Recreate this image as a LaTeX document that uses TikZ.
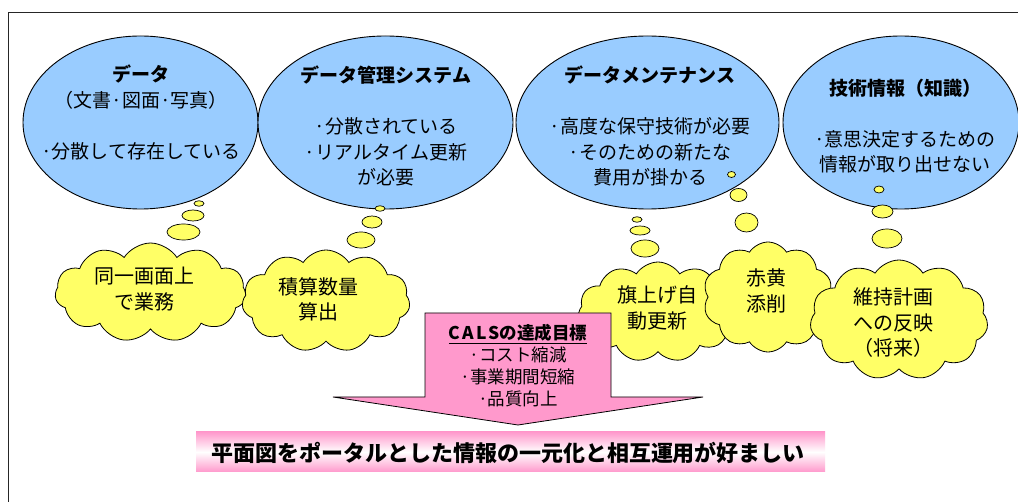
\documentclass[tikz,border=0pt]{standalone}
\usepackage{fontspec}
\newfontfamily\jp{Noto Sans CJK JP}
\usetikzlibrary{shapes.geometric,shapes.symbols}
\definecolor{eblue}{RGB}{153,204,255}
\definecolor{cyell}{RGB}{255,255,102}
\definecolor{apink}{RGB}{255,153,204}
\begin{document}
\begin{tikzpicture}[x=1pt,y=-1pt,
  bigell/.style={ellipse, draw=black, line width=0.9pt, fill=eblue, inner sep=0pt},
  bub/.style={ellipse, draw=black, line width=0.7pt, fill=cyell, inner sep=0pt},
  cld/.style={cloud, cloud puffs=11, cloud puff arc=115, cloud ignores aspect, draw=black, line width=0.8pt, fill=cyell, inner sep=0pt},
  etext/.style={align=center, font=\jp\fontsize{19}{25.5}\selectfont, inner sep=0pt},
  ctext/.style={align=center, font=\jp\fontsize{20}{25.5}\selectfont, inner sep=0pt},
  atext/.style={align=center, font=\jp\fontsize{17.5}{22}\selectfont, inner sep=0pt},
  frameline/.style={draw=black!85, line width=0.9pt}
]
\useasboundingbox (0,0) rectangle (1018,502);
\fill[white] (0,0) rectangle (1018,502);
\coordinate (fbl) at (8,502);
\coordinate (ftl) at (8,12);
\coordinate (ftr) at (1018,12);
\draw[frameline] (fbl) -- (ftl) -- (ftr);

% big ellipses
\node[bigell, minimum width=235, minimum height=173] (e1) at (140.5,122.5) {};
\node[bigell, minimum width=255, minimum height=173] (e2) at (385.5,122.5) {};
\node[bigell, minimum width=263, minimum height=173] (e3) at (647.5,122.5) {};
\node[bigell, minimum width=236, minimum height=173] (e4) at (901,122.5) {};

\node[etext] (t1) at (141,112.5) {\textbf{データ}\\（文書·図面·写真）\\ \\·分散して存在している};
\node[etext] (t2) at (386,126) {\textbf{データ管理システム}\\ \\·分散されている\\·リアルタイム更新\\が必要};
\node[etext] (t3) at (650,126) {\textbf{データメンテナンス}\\ \\·高度な保守技術が必要\\·そのための新たな\\費用が掛かる};
\node[etext] (t4) at (905,126) {\textbf{技術情報（知識）}\\ \\·意思決定するための\\情報が取り出せない};

% thought bubbles
\node[bub, minimum width=10, minimum height=5.5] (b1a) at (199,203.5) {};
\node[bub, minimum width=22, minimum height=11] (b1b) at (193,215.5) {};
\node[bub, minimum width=33, minimum height=16] (b1c) at (183.5,232) {};

\node[bub, minimum width=10, minimum height=5.5] (b2a) at (380,208.5) {};
\node[bub, minimum width=20, minimum height=12] (b2b) at (372,222) {};
\node[bub, minimum width=28, minimum height=16] (b2c) at (361,240) {};

\node[bub, minimum width=10, minimum height=5.5] (b3a) at (637,219.5) {};
\node[bub, minimum width=20, minimum height=9] (b3b) at (640,230.5) {};
\node[bub, minimum width=28, minimum height=17] (b3c) at (645,248.5) {};

\node[bub, minimum width=8, minimum height=6] (b4a) at (731.5,174.5) {};
\node[bub, minimum width=17, minimum height=13] (b4b) at (738.5,195) {};
\node[bub, minimum width=23, minimum height=19] (b4c) at (746.5,222.5) {};

\node[bub, minimum width=10, minimum height=7] (b5a) at (879,189.5) {};
\node[bub, minimum width=21, minimum height=13] (b5b) at (882.5,211.5) {};
\node[bub, minimum width=30, minimum height=19] (b5c) at (887,238.5) {};

% clouds
\node[cld, minimum width=191, minimum height=99] (c1) at (150.5,292.5) {};
\node[ctext] (ct1) at (144,289) {同一画面上\\で業務};
\node[cld, minimum width=168, minimum height=102] (c2) at (326,301) {};
\node[ctext] (ct2) at (318,299.5) {積算数量\\算出};
\node[cld, minimum width=160, minimum height=100] (c3) at (658,312) {};
\node[ctext] (ct3) at (657,308) {旗上げ自\\動更新};
\node[cld, cloud puffs=10, minimum width=130, minimum height=110] (c4) at (768,297) {};
\node[ctext] (ct4) at (766,291) {赤黄\\添削};
\node[cld, minimum width=178, minimum height=120] (c5) at (899,320) {};
\node[ctext] (ct5) at (893,323) {維持計画\\への反映\\（将来）};

% arrow
\coordinate (a1) at (425,313);
\coordinate (a2) at (611,313);
\coordinate (a3) at (611,397);
\coordinate (a4) at (703,397);
\coordinate (a5) at (518,425);
\coordinate (a6) at (333,397);
\coordinate (a7) at (425,397);
\draw[fill=apink, draw=black, line width=0.8pt] (a1) -- (a2) -- (a3) -- (a4) -- (a5) -- (a6) -- (a7) -- cycle;
\node[atext] (at) at (518,366) {\textbf{\underline{C\kern2pt A\kern2pt L\kern2pt Sの達成目標}}\\·コスト縮減\\·事業期間短縮\\·品質向上};

% banner
\node[minimum width=629, minimum height=40, inner sep=0pt, top color=apink, bottom color=apink, middle color=white] (ban) at (510.5,452) {};
\node[font=\jp\bfseries\fontsize{22}{26}\selectfont, inner sep=0pt] (bt) at (508,453) {平面図をポータルとした情報の一元化と相互運用が好ましい};
\end{tikzpicture}
\end{document}
